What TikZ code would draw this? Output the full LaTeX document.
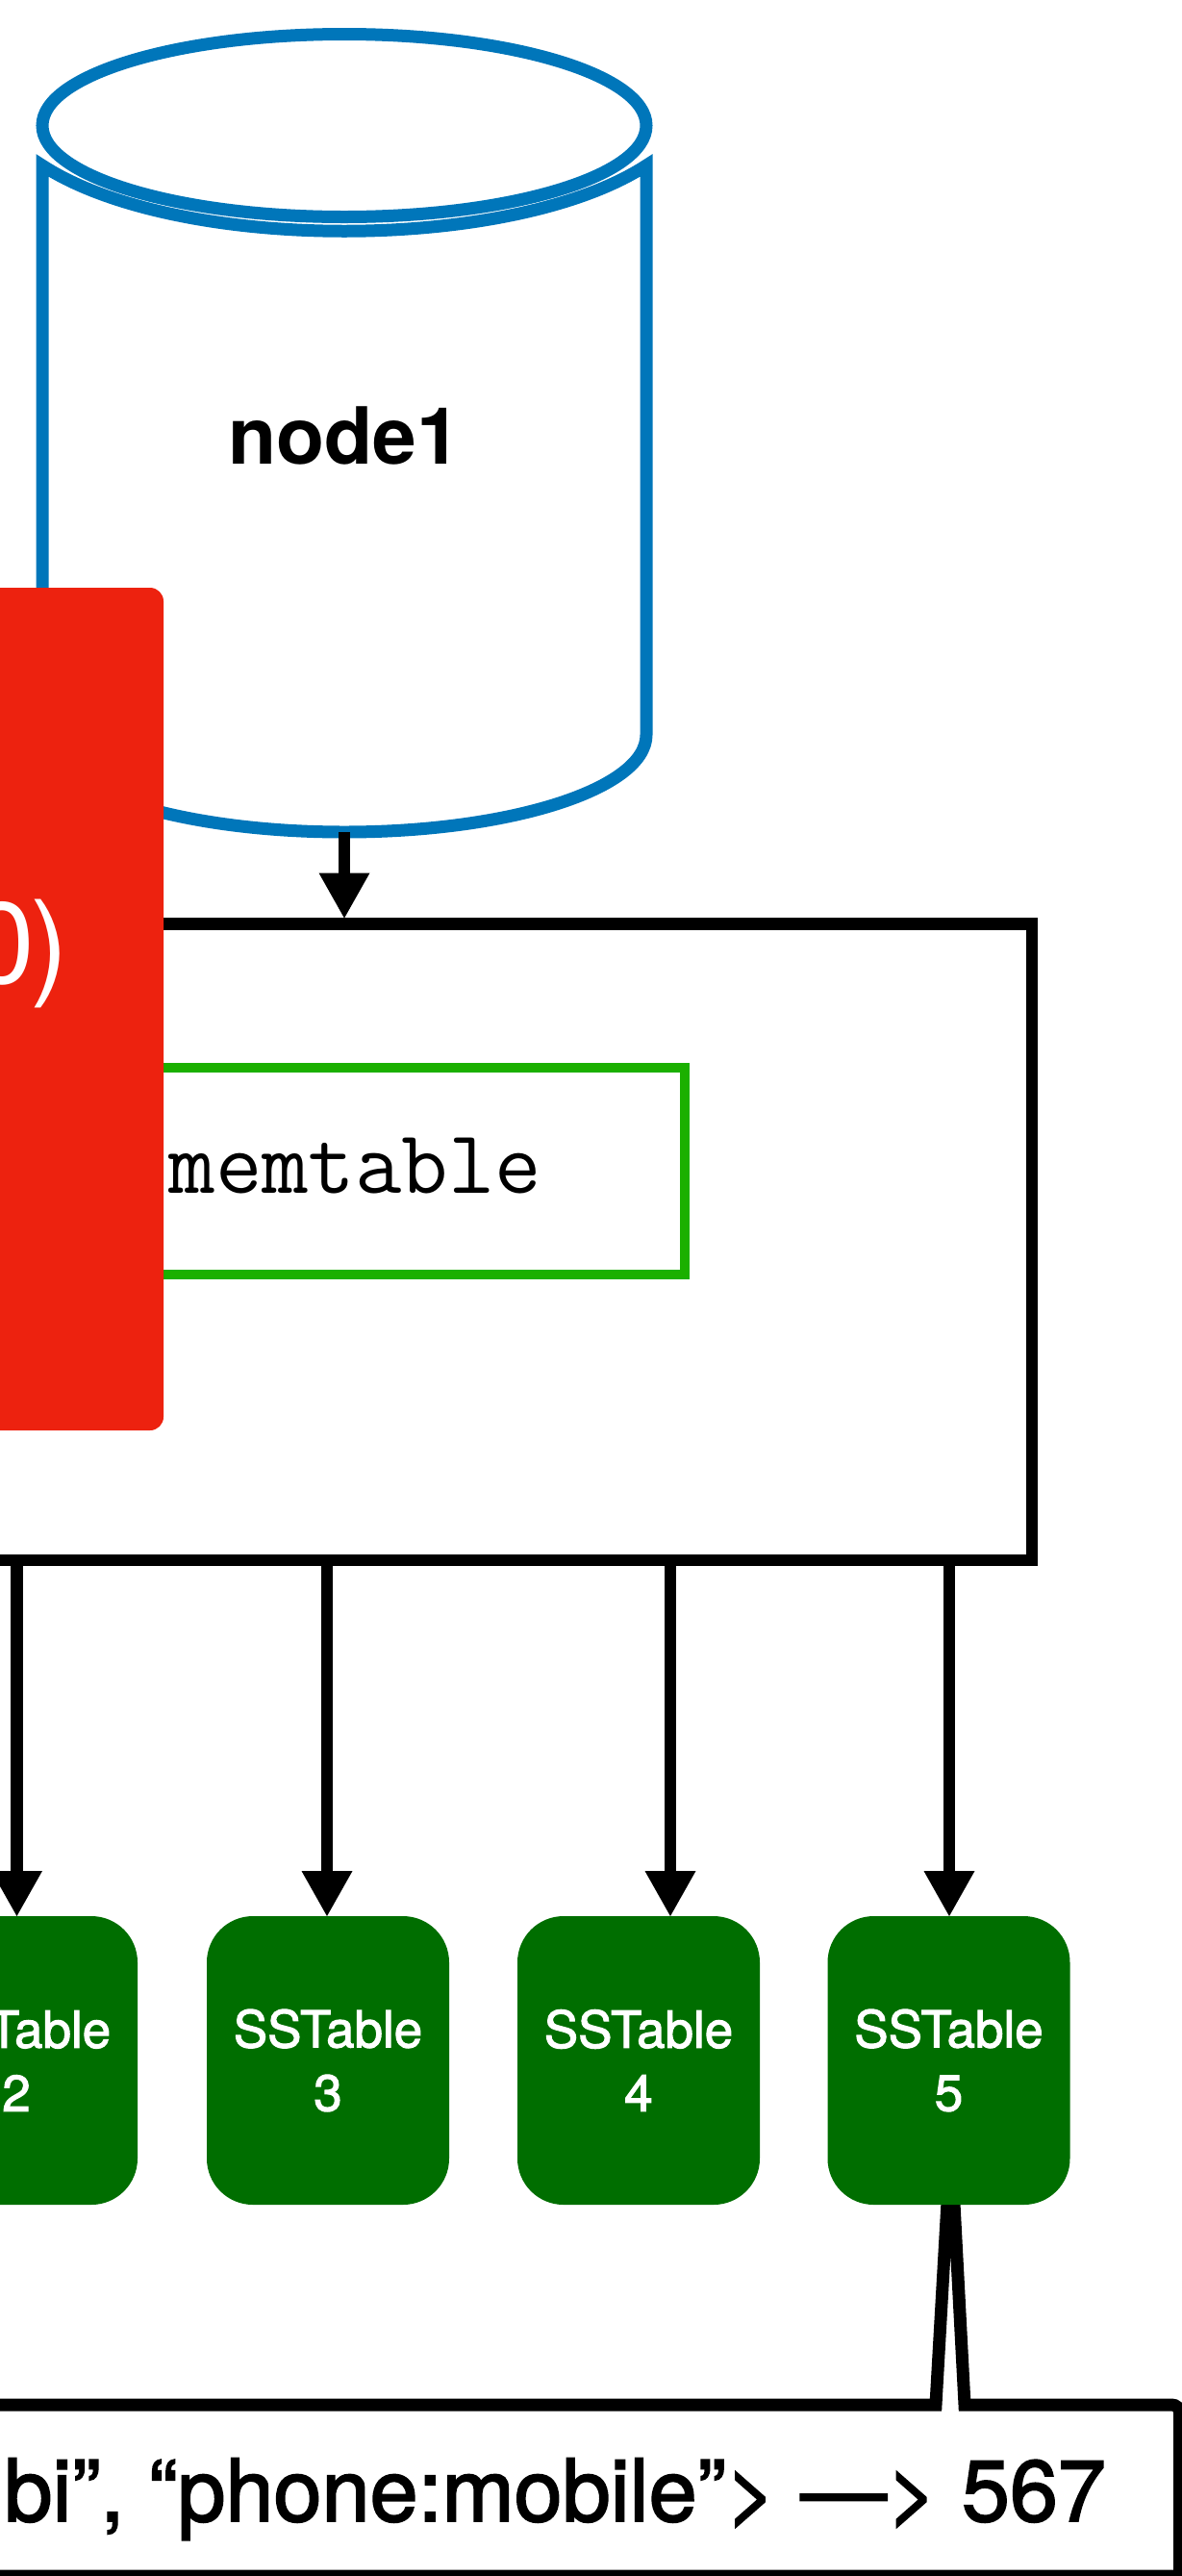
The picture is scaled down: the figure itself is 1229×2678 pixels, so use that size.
\documentclass[tikz,border=0pt]{standalone}
\usepackage{fontspec}
\setmainfont{TeX Gyre Heros}
\newfontfamily\medfont{TeX Gyre Heros}[FakeBold=2]
\usetikzlibrary{arrows.meta}
\definecolor{cylblue}{RGB}{0,118,186}
\definecolor{boxred}{RGB}{237,34,15}
\definecolor{memgreen}{RGB}{27,176,0}
\definecolor{ssgreen}{RGB}{0,110,0}
\begin{document}
\begin{tikzpicture}[x=1pt,y=1pt,
  cyl/.style={draw=cylblue, line width=13pt, fill=white},
  arr/.style={line width=12.5pt, -{Triangle[length=47pt,width=53pt,line width=0pt]}},
  sst/.style={fill=ssgreen, rounded corners=48pt, minimum width=252pt, minimum height=300pt,
              inner sep=0pt, outer sep=0pt, text=white, align=center,
              font=\medfont\fontsize{53}{66}\selectfont},
  txt/.style={inner sep=0pt, outer sep=0pt}]
\useasboundingbox (0,0) rectangle (1229,-2678);
% cylinder
\draw[cyl] (44,-172) .. controls (184,-263) and (532,-263) .. (672,-172)
  -- (672,-764) arc[start angle=0, end angle=-180, x radius=314, y radius=101] -- cycle;
\draw[cyl] (358,-130.5) ellipse [x radius=314, y radius=95];
\coordinate (cylbot) at (358,-865);
\node[txt, anchor=base, font=\bfseries\fontsize{82}{90}\selectfont] (nodelbl) at (358,-482) {node1};
% store box
\node[draw, line width=12.5pt, minimum width=1173pt, minimum height=661.5pt, inner sep=0pt, outer sep=0pt] (store) at (486.5,-1291.25) {};
\node[draw=memgreen, line width=10pt, minimum width=697pt, minimum height=215pt, inner sep=0pt, outer sep=0pt] (mem) at (363.5,-1217.2) {};
\node[txt, anchor=base east, font=\ttfamily\fontsize{94}{94}\selectfont] (memtxt) at (563,-1240) {memtable};
\draw[arr, shorten >=6pt] (cylbot) -- (cylbot |- store.north);
% red box
\node[fill=boxred, rounded corners=14pt, minimum width=370pt, minimum height=876pt, inner sep=0pt, outer sep=0pt] (redbox) at (-15,-1049) {};
\node[txt, anchor=base east, text=white, font=\fontsize{120}{120}\selectfont] (redtxt) at (71,-1022) {0\kern-5pt)};
% callout
\draw[line width=13pt, fill=white] (-50,-2500) -- (973,-2500) -- (988.6,-2226) -- (1003,-2500)
  -- (1218.5,-2500) arc[start angle=90, end angle=0, radius=8] -- (1226.5,-2678) -- (-50,-2678) -- cycle;
\node[txt, anchor=base east, font=\medfont\fontsize{90}{90}\selectfont] (calltxt) at (1150,-2621) {bi”, “phone:mobile”> —> 567};
% sstables
\node[sst] (sst2) at (17,-2142) {SSTable\\2};
\node[sst] (sst3) at (341,-2142) {SSTable\\3};
\node[sst] (sst4) at (664,-2142) {SSTable\\4};
\node[sst] (sst5) at (986.5,-2142) {SSTable\\5};
\coordinate (a2) at (17.5,-1622);
\coordinate (a3) at (340,-1622);
\coordinate (a4) at (697,-1622);
\coordinate (a5) at (987,-1622);
\draw[arr] (a2) -- (a2 |- sst2.north);
\draw[arr] (a3) -- (a3 |- sst3.north);
\draw[arr] (a4) -- (a4 |- sst4.north);
\draw[arr] (a5) -- (a5 |- sst5.north);
\end{tikzpicture}
\end{document}
